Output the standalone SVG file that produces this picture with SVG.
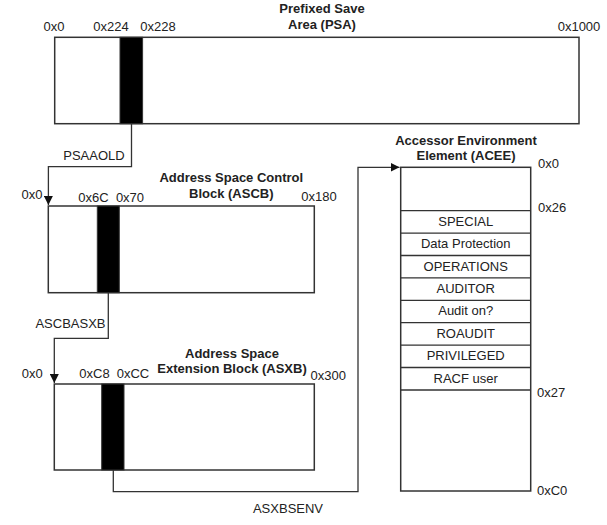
<svg xmlns="http://www.w3.org/2000/svg" width="607" height="525" viewBox="0 0 607 525">
<style>
text{font-family:"Liberation Sans",Arial,sans-serif;font-size:13px;fill:#222}
.t{font-weight:bold;text-anchor:middle}
.m{text-anchor:middle}
.box{fill:#fff;stroke:#333;stroke-width:1.5}
.bar{fill:#000;stroke:#333;stroke-width:1}
.c{fill:none;stroke:#333;stroke-width:1.3}
</style>
<defs>
<marker id="ah" viewBox="0 0 10 10" refX="10" refY="5" markerWidth="9" markerHeight="9" markerUnits="userSpaceOnUse" orient="auto">
<path d="M0,0 L10,5 L0,10 Z" fill="#111"/>
</marker>
</defs>
<rect width="607" height="525" fill="#fff"/>
<g id="connectors">
<path class="c" d="M131.5,124 V166.7 H48.4 V205" marker-end="url(#ah)"/>
<path class="c" d="M108.3,293 V338.3 H54.3 V383" marker-end="url(#ah)"/>
<path class="c" d="M113.3,470 V491.7 H358 V167.3 H399.5" marker-end="url(#ah)"/>
<text x="94" y="160" class="m">PSAAOLD</text>
<text x="70.5" y="328" class="m">ASCBASXB</text>
<text x="288" y="512.5" class="m">ASXBSENV</text>
</g>
<g id="psa">
<rect class="box" x="54.7" y="37.3" width="524.3" height="86.4"/>
<rect class="bar" x="120" y="37.3" width="22.6" height="86.4"/>
<text x="322" y="13" class="t">Prefixed Save</text>
<text x="322" y="29" class="t">Area (PSA)</text>
<text x="54" y="31" class="m">0x0</text>
<text x="111" y="31" class="m">0x224</text>
<text x="158" y="31" class="m">0x228</text>
<text x="579" y="31" class="m">0x1000</text>
</g>
<g id="ascb">
<rect class="box" x="48.3" y="206" width="266" height="86.7"/>
<rect class="bar" x="97.3" y="206" width="22" height="86.7"/>
<text x="231.3" y="181.7" class="t">Address Space Control</text>
<text x="231.3" y="198" class="t">Block (ASCB)</text>
<text x="32" y="198.5" class="m">0x0</text>
<text x="93.5" y="201.5" class="m">0x6C</text>
<text x="130" y="201.5" class="m">0x70</text>
<text x="319" y="201" class="m">0x180</text>
</g>
<g id="asxb">
<rect class="box" x="54.3" y="384" width="260" height="86"/>
<rect class="bar" x="101.7" y="384" width="22.3" height="86"/>
<text x="232" y="357.5" class="t">Address Space</text>
<text x="232" y="373" class="t">Extension Block (ASXB)</text>
<text x="32.3" y="377.5" class="m">0x0</text>
<text x="94.5" y="377.5" class="m">0xC8</text>
<text x="133" y="377.5" class="m">0xCC</text>
<text x="328.3" y="380" class="m">0x300</text>
</g>
<g id="acee">
<rect class="box" x="400.7" y="167.3" width="130" height="323.7"/>
<path class="c" d="M400.7,210.7 H530.7 M400.7,233.1 H530.7 M400.7,255.5 H530.7 M400.7,277.9 H530.7 M400.7,300.3 H530.7 M400.7,322.7 H530.7 M400.7,345.1 H530.7 M400.7,367.5 H530.7 M400.7,390 H530.7"/>
<text x="466" y="145" class="t">Accessor Environment</text>
<text x="466" y="160" class="t">Element (ACEE)</text>
<text x="465.7" y="225.7" class="m">SPECIAL</text>
<text x="465.7" y="248.1" class="m">Data Protection</text>
<text x="465.7" y="270.5" class="m">OPERATIONS</text>
<text x="465.7" y="292.9" class="m">AUDITOR</text>
<text x="465.7" y="315.3" class="m">Audit on?</text>
<text x="465.7" y="337.7" class="m">ROAUDIT</text>
<text x="465.7" y="360.1" class="m">PRIVILEGED</text>
<text x="465.7" y="382.5" class="m">RACF user</text>
<text x="538" y="168">0x0</text>
<text x="538" y="212">0x26</text>
<text x="537" y="397">0x27</text>
<text x="537" y="495">0xC0</text>
</g>
</svg>
